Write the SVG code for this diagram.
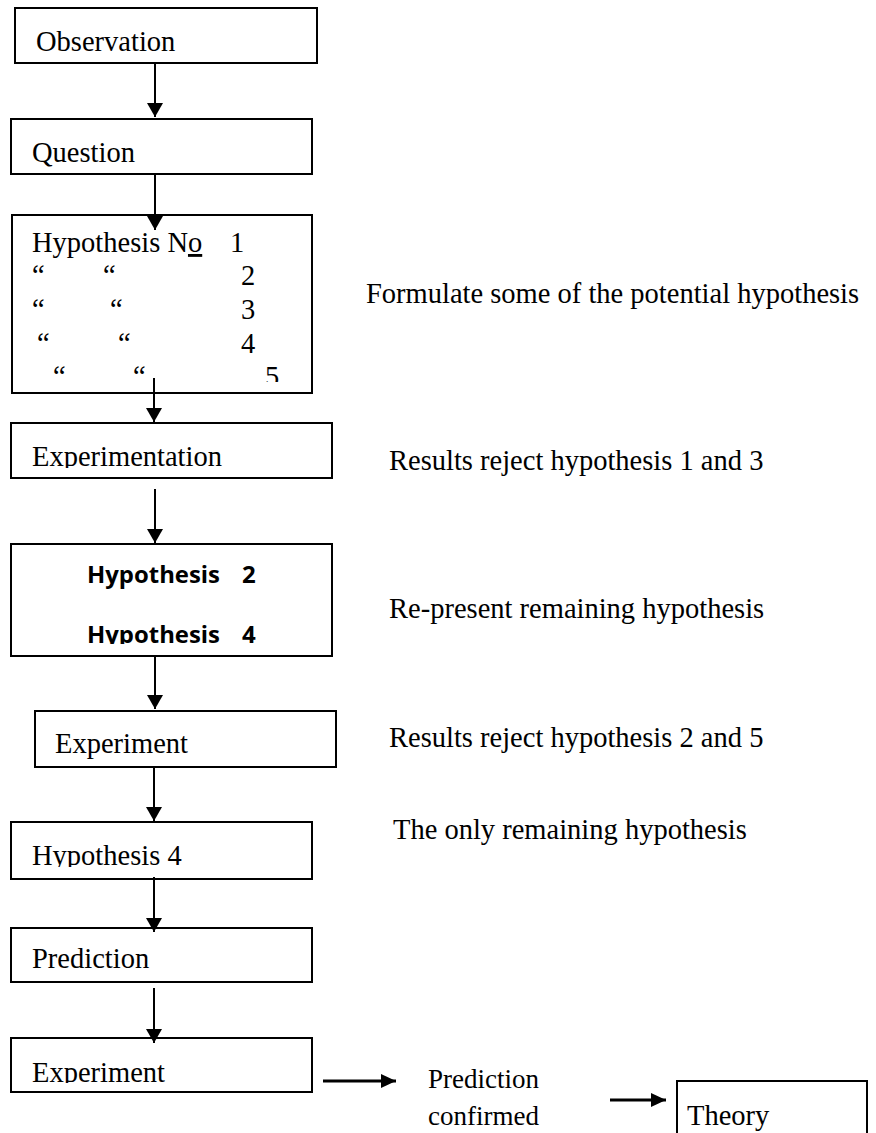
<svg xmlns="http://www.w3.org/2000/svg" width="876" height="1133" viewBox="0 0 876 1133">
<style>
.box{fill:#fff;stroke:#000;stroke-width:2}
.t{font-family:"Liberation Serif","Times New Roman",serif;font-size:28.5px;fill:#000}
.b{font-family:"Open Sans","Liberation Sans",sans-serif;font-weight:700;font-size:24px;fill:#000}
.v{stroke:#000;stroke-width:2;fill:none;marker-end:url(#ah)}
.h{stroke:#000;stroke-width:3;fill:none;marker-end:url(#ah2)}
</style>
<defs>
<marker id="ah" markerUnits="userSpaceOnUse" viewBox="0 0 14 16" markerWidth="14" markerHeight="16" refX="14" refY="8" orient="auto">
<path d="M0,0 L14,8 L0,16 z" fill="#000"/>
</marker>
<marker id="ah2" markerUnits="userSpaceOnUse" viewBox="0 0 15 14" markerWidth="15" markerHeight="14" refX="15" refY="7" orient="auto">
<path d="M0,0 L15,7 L0,14 z" fill="#000"/>
</marker>
<clipPath id="c-hyp"><rect x="12" y="215" width="300" height="167"/></clipPath>
<clipPath id="c-expt"><rect x="11" y="423" width="321" height="45"/></clipPath>
<clipPath id="c-h24"><rect x="11" y="544" width="321" height="100"/></clipPath>
<clipPath id="c-h4"><rect x="11" y="822" width="301" height="45"/></clipPath>
<clipPath id="c-exp2"><rect x="11" y="1038" width="301" height="45"/></clipPath>
</defs>

<g id="observation">
<rect class="box" x="15" y="8" width="302" height="55"/>
<text class="t" x="36" y="51">Observation</text>
</g>
<g id="question">
<rect class="box" x="11" y="119" width="301" height="55"/>
<text class="t" x="32" y="162">Question</text>
</g>
<g id="hypotheses">
<rect class="box" x="12" y="215" width="300" height="178"/>
<g clip-path="url(#c-hyp)">
<text class="t" x="32" y="252">Hypothesis N<tspan text-decoration="underline">o</tspan><tspan x="230">1</tspan></text>
<text class="t" x="32" y="285">“<tspan x="103">“</tspan><tspan x="241">2</tspan></text>
<text class="t" x="32" y="319">“<tspan x="110">“</tspan><tspan x="241">3</tspan></text>
<text class="t" x="37" y="353">“<tspan x="118">“</tspan><tspan x="241">4</tspan></text>
<text class="t" x="53" y="386">“<tspan x="133">“</tspan><tspan x="265">5</tspan></text>
</g>
</g>
<g id="experimentation">
<rect class="box" x="11" y="423" width="321" height="55"/>
<text class="t" x="32" y="466" clip-path="url(#c-expt)">Experimentation</text>
</g>
<g id="hypothesis-2-4">
<rect class="box" x="11" y="544" width="321" height="112"/>
<g clip-path="url(#c-h24)">
<text class="b" x="87" y="583" textLength="133" lengthAdjust="spacingAndGlyphs">Hypothesis</text>
<text class="b" x="242" y="583">2</text>
<text class="b" x="87" y="643" textLength="133" lengthAdjust="spacingAndGlyphs">Hypothesis</text>
<text class="b" x="242" y="643">4</text>
</g>
</g>
<g id="experiment-1">
<rect class="box" x="35" y="711" width="301" height="56"/>
<text class="t" x="55" y="753">Experiment</text>
</g>
<g id="hypothesis-4">
<rect class="box" x="11" y="822" width="301" height="57"/>
<text class="t" x="32" y="865" clip-path="url(#c-h4)">Hypothesis 4</text>
</g>
<g id="prediction">
<rect class="box" x="11" y="928" width="301" height="54"/>
<text class="t" x="32" y="968">Prediction</text>
</g>
<g id="experiment-2">
<rect class="box" x="11" y="1038" width="301" height="54"/>
<text class="t" x="32" y="1082" clip-path="url(#c-exp2)">Experiment</text>
</g>
<g id="prediction-confirmed">
<text class="t" x="428" y="1088" style="font-size:27px">Prediction</text>
<text class="t" x="428" y="1125" style="font-size:27px">confirmed</text>
</g>
<g id="theory">
<rect class="box" x="677" y="1081" width="190" height="70"/>
<text class="t" x="687" y="1125">Theory</text>
</g>

<g id="notes">
<text class="t" x="366" y="303">Formulate some of the potential hypothesis</text>
<text class="t" x="389" y="470">Results reject hypothesis 1 and 3</text>
<text class="t" x="389" y="618">Re-present remaining hypothesis</text>
<text class="t" x="389" y="747">Results reject hypothesis 2 and 5</text>
<text class="t" x="393" y="839">The only remaining hypothesis</text>
</g>

<g id="connectors">
<line class="v" x1="155" y1="63" x2="155" y2="117"/>
<line class="v" x1="155" y1="174" x2="155" y2="230"/>
<line class="v" x1="154" y1="378" x2="154" y2="422"/>
<line class="v" x1="155" y1="489" x2="155" y2="543"/>
<line class="v" x1="155" y1="656" x2="155" y2="709"/>
<line class="v" x1="154" y1="767" x2="154" y2="821"/>
<line class="v" x1="154" y1="877" x2="154" y2="932"/>
<line class="v" x1="154" y1="988" x2="154" y2="1043"/>
<line class="h" x1="323" y1="1081" x2="396" y2="1081"/>
<line class="h" x1="610" y1="1100" x2="666" y2="1100"/>
</g>
</svg>
